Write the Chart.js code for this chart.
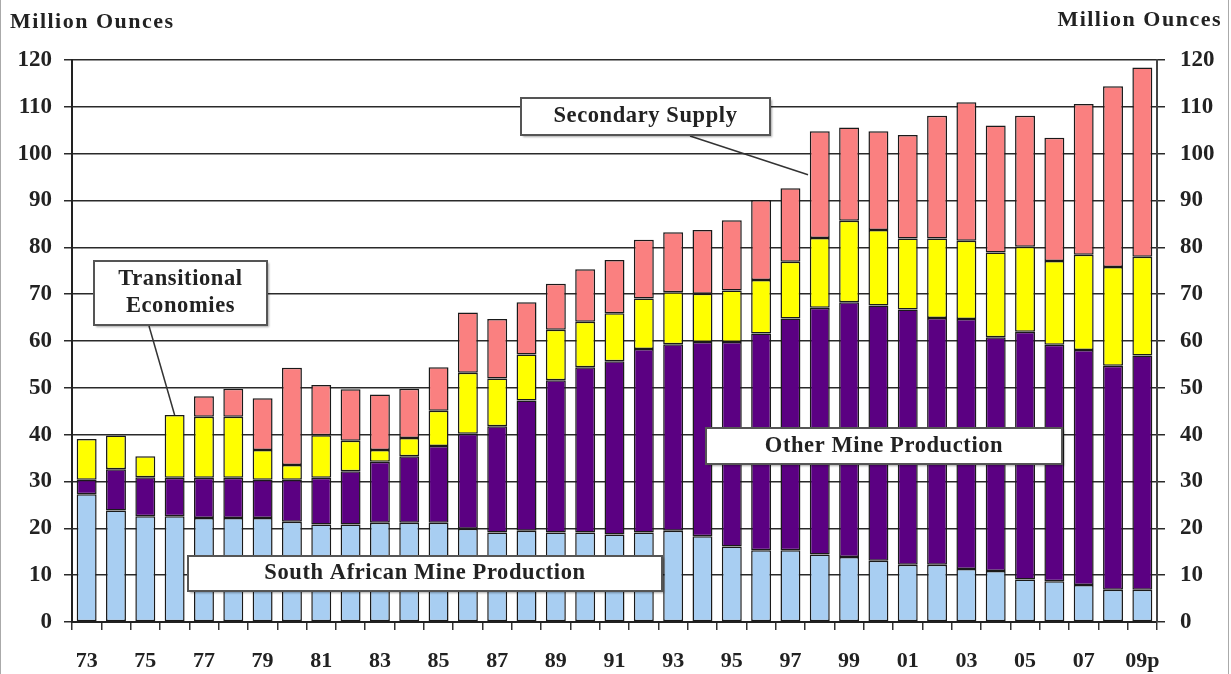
<!DOCTYPE html>
<html>
<head>
<meta charset="utf-8">
<script src="https://cdn.jsdelivr.net/npm/chart.js@4.4.1/dist/chart.umd.min.js"></script>
<style>
  html, body { margin: 0; padding: 0; background: #fff; }
  canvas { display: block; }
</style>
</head>
<body>
<canvas id="myChart" width="1231" height="674"></canvas>
<script>
const years = [
  '73', '74', '75', '76', '77', '78', '79', '80', '81', '82',
  '83', '84', '85', '86', '87', '88', '89', '90', '91', '92',
  '93', '94', '95', '96', '97', '98', '99', '00', '01', '02',
  '03', '04', '05', '06', '07', '08', '09p'
];

// million ounces
const southAfrica = [
  27.3, 23.8, 22.6, 22.6, 22.2, 22.2, 22.2, 21.4, 20.8, 20.8,
  21.2, 21.2, 21.2, 19.9, 19.1, 19.5, 19.1, 19.1, 18.7, 19.1,
  19.5, 18.3, 16.1, 15.3, 15.3, 14.4, 13.9, 13.1, 12.2, 12.2,
  11.3, 10.9, 9.1, 8.7, 7.9, 6.9, 6.9
];
const otherMine = [
  3.1, 8.8, 8.3, 8.2, 8.6, 8.6, 8.2, 9.0, 10.0, 11.4,
  13.0, 14.2, 16.4, 20.3, 22.7, 27.8, 32.5, 35.3, 37.0, 39.2,
  39.8, 41.5, 43.7, 46.3, 49.5, 52.7, 54.4, 54.5, 54.5, 52.7,
  53.4, 49.9, 52.9, 50.5, 50.2, 47.8, 50.0
];
const transitional = [
  8.7, 7.2, 4.5, 13.4, 13.0, 13.0, 6.3, 3.1, 9.1, 6.5,
  2.5, 3.9, 7.5, 13.0, 10.2, 9.8, 10.8, 9.7, 10.2, 10.8,
  11.1, 10.3, 11.0, 11.4, 12.1, 14.9, 17.4, 16.1, 15.2, 17.0,
  16.7, 18.1, 18.1, 17.9, 20.3, 21.1, 21.1
];
const secondary = [
  null, null, null, null, 4.4, 6.0, 11.1, 20.8, 10.7, 11.0,
  11.9, 10.5, 9.3, 12.9, 12.7, 11.2, 9.8, 11.2, 11.4, 12.5,
  12.8, 13.6, 15.0, 17.1, 15.7, 22.8, 19.9, 21.1, 22.1, 26.2,
  29.6, 27.1, 28.0, 26.3, 32.2, 38.6, 40.4
];

const yTicks = [0, 120, 10]; // min, max, step

const serif = '"Liberation Serif", "Times New Roman", serif';
const yFont = { family: serif, size: 23, weight: 'bold' };
const xFont = { family: serif, size: 22, weight: 'bold' };
const ink = '#222';

function bar(label, values, colour) {
  return {
    label: label,
    data: values,
    backgroundColor: colour,
    borderColor: '#1a1a1a',
    borderWidth: 1.5,
    borderSkipped: false,
    barPercentage: 0.68,
    categoryPercentage: 1.0
  };
}

// callout boxes and the two axis titles
const callouts = {
  id: 'callouts',
  afterDraw(chart) {
    const ctx = chart.ctx;
    const x = chart.scales.x, y = chart.scales.y;
    ctx.save();

    ctx.font = 'bold 22px ' + serif;
    ctx.fillStyle = ink;
    ctx.letterSpacing = '1.5px';
    ctx.textBaseline = 'alphabetic';
    ctx.textAlign = 'left';
    ctx.fillText('Million Ounces', 10, 28);
    ctx.textAlign = 'right';
    ctx.fillText('Million Ounces', 1222, 26);

    // pointer lines
    ctx.strokeStyle = '#333';
    ctx.lineWidth = 1.5;
    const i76 = 3;
    const top76 = southAfrica[i76] + otherMine[i76] + transitional[i76];
    ctx.beginPath();
    ctx.moveTo(149, 326);
    ctx.lineTo(x.getPixelForValue(i76), y.getPixelForValue(top76));
    ctx.stroke();
    ctx.beginPath();
    ctx.moveTo(690, 136);
    ctx.lineTo(x.getPixelForValue(24.6), y.getPixelForValue(95.5));
    ctx.stroke();

    const boxes = [
      { lines: ['Transitional', 'Economies'], x0: 94, y0: 261, x1: 267, y1: 325 },
      { lines: ['Secondary Supply'], x0: 521, y0: 98, x1: 770, y1: 135 },
      { lines: ['Other Mine Production'], x0: 706, y0: 428, x1: 1062, y1: 464 },
      { lines: ['South African Mine Production'], x0: 188, y0: 556, x1: 662, y1: 591 }
    ];
    ctx.font = 'bold 22.5px ' + serif;
    boxes.forEach(b => {
      ctx.shadowColor = 'rgba(0,0,0,0.35)';
      ctx.shadowOffsetX = 1.5;
      ctx.shadowOffsetY = 1.5;
      ctx.shadowBlur = 2;
      ctx.fillStyle = '#fff';
      ctx.fillRect(b.x0, b.y0, b.x1 - b.x0, b.y1 - b.y0);
      ctx.shadowColor = 'transparent';
      ctx.strokeStyle = '#555';
      ctx.lineWidth = 2;
      ctx.strokeRect(b.x0, b.y0, b.x1 - b.x0, b.y1 - b.y0);

      ctx.fillStyle = ink;
      ctx.textAlign = 'center';
      ctx.textBaseline = 'middle';
      ctx.letterSpacing = '0.6px';
      const cx = (b.x0 + b.x1) / 2;
      const cy = (b.y0 + b.y1) / 2;
      const lh = 27;
      b.lines.forEach((t, k) => {
        ctx.fillText(t, cx, cy + (k - (b.lines.length - 1) / 2) * lh);
      });
    });

    // thin frame on the left and right edges
    ctx.strokeStyle = '#aaa';
    ctx.lineWidth = 1;
    ctx.beginPath();
    ctx.moveTo(0.5, 0);
    ctx.lineTo(0.5, 674);
    ctx.moveTo(1228.5, 0);
    ctx.lineTo(1228.5, 674);
    ctx.stroke();
    ctx.restore();
  }
};

const config = {
  type: 'bar',
  data: {
    labels: years,
    datasets: [
      bar('South African Mine Production', southAfrica, '#a8cef2'),
      bar('Other Mine Production', otherMine, '#5b0082'),
      bar('Transitional Economies', transitional, '#ffff00'),
      bar('Secondary Supply', secondary, '#fa8080')
    ]
  },
  options: {
    responsive: false,
    animation: false,
    layout: { padding: { top: 60, left: 0, right: 0, bottom: 0 } },
    plugins: {
      legend: { display: false },
      tooltip: { enabled: false }
    },
    scales: {
      x: {
        stacked: true,
        grid: {
          offset: true,
          drawOnChartArea: false,
          drawTicks: true,
          tickLength: 8,
          color: '#333',
          lineWidth: 1.5
        },
        border: { display: true, color: '#222', width: 2 },
        ticks: {
          font: xFont,
          color: ink,
          autoSkip: false,
          maxRotation: 0,
          padding: 18,
          callback: function (val, i) {
            return i % 2 === 0 ? this.getLabelForValue(val) : '';
          }
        },
        afterFit: s => { s.height = 52; }
      },
      y: {
        stacked: true,
        position: 'left',
        min: yTicks[0],
        max: yTicks[1],
        ticks: { stepSize: yTicks[2], font: yFont, color: ink, padding: 12 },
        grid: { color: '#2a2a2a', lineWidth: 1.5, tickLength: 8 },
        border: { display: true, color: '#222', width: 2 },
        afterFit: s => { s.width = 72; }
      },
      y2: {
        position: 'right',
        min: yTicks[0],
        max: yTicks[1],
        ticks: { stepSize: yTicks[2], font: yFont, color: ink, padding: 15 },
        grid: { drawOnChartArea: false, color: '#2a2a2a', lineWidth: 1.5, tickLength: 8 },
        border: { display: true, color: '#444', width: 2, dash: [2, 2] },
        afterFit: s => { s.width = 74; }
      }
    }
  },
  plugins: [callouts]
};

const myChart = new Chart(
  document.getElementById('myChart'),
  config
);
</script>
</body>
</html>
